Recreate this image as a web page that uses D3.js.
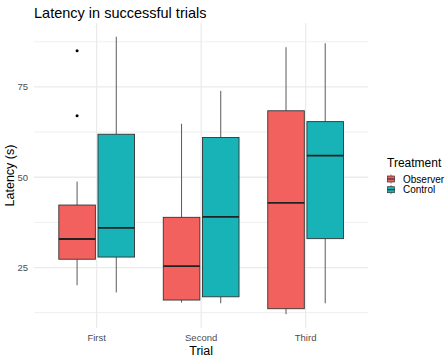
<!DOCTYPE html>
<html>
<head>
<meta charset="utf-8">
<script src="https://cdn.jsdelivr.net/npm/d3@7"></script>
<style>
  body { margin: 0; background: #fff; }
  svg text { font-family: "Liberation Sans", Arial, sans-serif; }
</style>
</head>
<body>
<div id="chart"></div>
<script>
// Values
const trials = ["First", "Second", "Third"];
const treatments = ["Observer", "Control"];
const treatmentColors = ["#F3615E", "#17B3B7"];
const yTicks = [25, 50, 75];
const yMinor = [12.5, 37.5, 62.5, 87.5];

// five-number summaries: [lowWhisker, q1, median, q3, highWhisker]
const observerStats = [
    [20.1, 27.3, 32.9, 42.3, 48.8],
    [15.3, 16.0, 25.4, 38.9, 64.8],
    [12.1, 13.6, 42.9, 68.4, 86.0]
];
const controlStats = [
    [18.1, 27.9, 36.0, 61.9, 88.9],
    [15.1, 16.9, 39.0, 61.0, 73.9],
    [15.1, 33.0, 56.0, 65.4, 87.1]
];
const observerOutliers = [[85.0, 67.0], [], []];
const controlOutliers = [[], [], []];

function renderBoxplot() {
    const width = 447;
    const height = 359;
    const panel = { left: 34, right: 368.3, top: 23, bottom: 328 };

    const svg = d3.select("#chart").append("svg")
        .attr("width", width)
        .attr("height", height);

    const x = d3.scalePoint()
        .domain(trials)
        .range([panel.left, panel.right])
        .padding(0.6);
    const step = x.step();

    const y = d3.scaleLinear()
        .domain([8.26, 92.7])
        .range([panel.bottom, panel.top]);

    const color = d3.scaleOrdinal().domain(treatments).range(treatmentColors);
    const dodge = d3.scaleOrdinal().domain(treatments).range([-0.1875 * step, 0.1875 * step]);
    const boxW = 0.35 * step;

    // Grid lines
    const grid = svg.append("g");
    grid.selectAll(".minor").data(yMinor).enter().append("line")
        .attr("x1", panel.left).attr("x2", panel.right)
        .attr("y1", d => y(d)).attr("y2", d => y(d))
        .attr("stroke", "#ebebeb").attr("stroke-width", 0.8);
    grid.selectAll(".major").data(yTicks).enter().append("line")
        .attr("x1", panel.left).attr("x2", panel.right)
        .attr("y1", d => y(d)).attr("y2", d => y(d))
        .attr("stroke", "#ebebeb").attr("stroke-width", 1.3);
    grid.selectAll(".vmajor").data(trials).enter().append("line")
        .attr("x1", d => x(d)).attr("x2", d => x(d))
        .attr("y1", panel.top).attr("y2", panel.bottom)
        .attr("stroke", "#ebebeb").attr("stroke-width", 1.3);

    // Build box data from the arrays
    const boxes = [];
    trials.forEach((t, i) => {
        boxes.push({ trial: t, treatment: "Observer", s: observerStats[i], out: observerOutliers[i] });
        boxes.push({ trial: t, treatment: "Control", s: controlStats[i], out: controlOutliers[i] });
    });

    const g = svg.selectAll(".box").data(boxes).enter().append("g")
        .attr("class", "box")
        .attr("transform", d => `translate(${x(d.trial) + dodge(d.treatment)},0)`);

    // whiskers
    g.append("line")
        .attr("x1", 0).attr("x2", 0)
        .attr("y1", d => y(d.s[0])).attr("y2", d => y(d.s[1]))
        .attr("stroke", "#5a5a5a").attr("stroke-width", 1);
    g.append("line")
        .attr("x1", 0).attr("x2", 0)
        .attr("y1", d => y(d.s[3])).attr("y2", d => y(d.s[4]))
        .attr("stroke", "#5a5a5a").attr("stroke-width", 1);

    // box
    g.append("rect")
        .attr("x", -boxW / 2)
        .attr("width", boxW)
        .attr("y", d => y(d.s[3]))
        .attr("height", d => y(d.s[1]) - y(d.s[3]))
        .attr("fill", d => color(d.treatment))
        .attr("stroke", "#333")
        .attr("stroke-width", 0.9);

    // median
    g.append("line")
        .attr("x1", -boxW / 2).attr("x2", boxW / 2)
        .attr("y1", d => y(d.s[2])).attr("y2", d => y(d.s[2]))
        .attr("stroke", "#222").attr("stroke-width", 1.8);

    // outliers
    g.selectAll(".out").data(d => d.out).enter().append("circle")
        .attr("cx", 0).attr("cy", d => y(d)).attr("r", 1.5)
        .attr("fill", "#000");

    // Y axis tick labels
    svg.selectAll(".ytick").data(yTicks).enter().append("text")
        .attr("x", 28).attr("y", d => y(d))
        .attr("dy", "0.35em")
        .attr("text-anchor", "end")
        .attr("font-size", 9.5)
        .attr("fill", "#4d4d4d")
        .text(d => d);

    // X axis tick labels
    svg.selectAll(".xtick").data(trials).enter().append("text")
        .attr("x", d => x(d)).attr("y", 337.5)
        .attr("dy", "0.35em")
        .attr("text-anchor", "middle")
        .attr("font-size", 9.5)
        .attr("fill", "#4d4d4d")
        .text(d => d);

    // Axis titles
    svg.append("text")
        .attr("x", (panel.left + panel.right) / 2).attr("y", 351)
        .attr("dy", "0.35em")
        .attr("text-anchor", "middle")
        .attr("font-size", 12.5)
        .text("Trial");
    svg.append("text")
        .attr("transform", `translate(9.5,${(panel.top + panel.bottom) / 2}) rotate(-90)`)
        .attr("dy", "0.35em")
        .attr("text-anchor", "middle")
        .attr("font-size", 12.5)
        .text("Latency (s)");

    // Title
    svg.append("text")
        .attr("x", 34).attr("y", 13)
        .attr("dy", "0.35em")
        .attr("font-size", 14.5)
        .text("Latency in successful trials");

    // Legend
    const legend = svg.append("g").attr("transform", "translate(387,0)");
    legend.append("text")
        .attr("x", 0).attr("y", 163)
        .attr("dy", "0.35em")
        .attr("font-size", 12)
        .text("Treatment");

    const items = legend.selectAll(".item").data(treatments).enter().append("g")
        .attr("transform", (d, i) => `translate(0,${179 + i * 10.7})`);
    items.append("line")
        .attr("x1", 4).attr("x2", 4).attr("y1", -4.5).attr("y2", 4.5)
        .attr("stroke", "#5a5a5a").attr("stroke-width", 0.8);
    items.append("rect")
        .attr("x", 0.5).attr("y", -3).attr("width", 7).attr("height", 6)
        .attr("fill", d => color(d))
        .attr("stroke", "#333").attr("stroke-width", 0.7);
    items.append("line")
        .attr("x1", 0.5).attr("x2", 7.5).attr("y1", 0).attr("y2", 0)
        .attr("stroke", "#222").attr("stroke-width", 1);
    items.append("text")
        .attr("x", 16).attr("y", 0)
        .attr("dy", "0.35em")
        .attr("font-size", 10)
        .text(d => d);
}

renderBoxplot();
</script>
</body>
</html>
